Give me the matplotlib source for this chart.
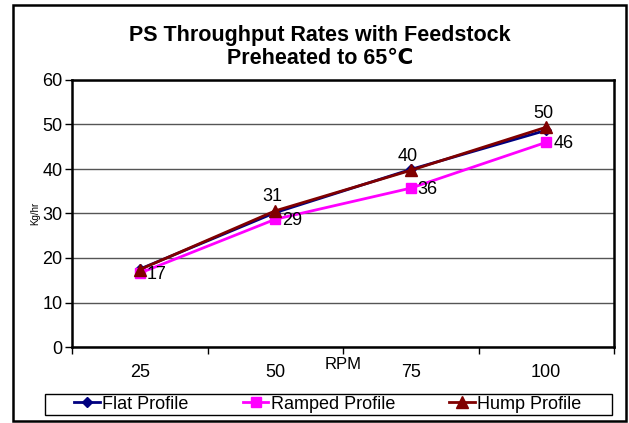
import numpy as np
import matplotlib.pyplot as plt
from matplotlib.patches import Rectangle

plt.rcParams['font.family'] = ['Liberation Sans', 'DejaVu Sans']

rpm = ['25', '50', '75', '100']
flat = [17.5, 30.2, 39.9, 48.7]
ramped = [16.6, 28.7, 35.7, 46.0]
hump = [17.4, 30.6, 39.7, 49.4]
ramped_labels = ['17', '29', '36', '46']
hump_labels = ['', '31', '40', '50']

W, H = 629, 423
fig = plt.figure(figsize=(W / 100, H / 100), dpi=100)
fig.patch.set_facecolor('white')

# outer chart frame and legend box
fig.patches.append(Rectangle((13 / W, 2 / H), 613 / W, 416 / H, transform=fig.transFigure,
                             fill=False, edgecolor='black', linewidth=1.8))
fig.patches.append(Rectangle((45 / W, 1 - 415 / H), 567 / W, 21 / H, transform=fig.transFigure,
                             fill=False, edgecolor='black', linewidth=1))

ax = fig.add_axes([72 / W, (H - 347) / H, 542 / W, 267 / H])
x = np.arange(len(rpm))

ax.plot(x, flat, color='#000080', marker='D', markersize=5, linewidth=2, label='Flat Profile')
ax.plot(x, ramped, color='#FF00FF', marker='s', markersize=7, linewidth=2, label='Ramped Profile')
ax.plot(x, hump, color='#800000', marker='^', markersize=8, linewidth=2, label='Hump Profile')

for xi, v, t in zip(x, ramped, ramped_labels):
    ax.annotate(t, (xi, v), xytext=(5, -1), textcoords='offset points',
                ha='left', va='center', fontsize=13)
for xi, v, t in zip(x, hump, hump_labels):
    if t:
        ax.annotate(t, (xi, v), xytext=(-2, 4), textcoords='offset points',
                    ha='center', va='bottom', fontsize=13)

ax.set_xlim(-0.5, len(rpm) - 0.5)
ax.set_ylim(0, 60)
ax.set_yticks(range(0, 61, 10))
ax.set_xticks(x)
ax.set_xticklabels(rpm)
ax.set_xticks(np.arange(-0.5, len(rpm), 1), minor=True)
ax.tick_params(axis='x', which='major', length=0, pad=12, labelsize=13)
ax.tick_params(axis='x', which='minor', length=5, width=1)
ax.tick_params(axis='y', length=5, width=1, labelsize=13, pad=2)
ax.grid(axis='y', color='#555555', linewidth=1)
ax.set_axisbelow(True)
for s in ax.spines.values():
    s.set_linewidth(1.8)

ax.set_xlabel('RPM', fontsize=12, labelpad=-17)
ax.set_ylabel('Kg/hr', fontsize=7, labelpad=1)

fig.text(320 / W, 1 - 47 / H, 'PS Throughput Rates with Feedstock\nPreheated to 65\u2103',
         ha='center', va='center', fontsize=15.5, fontweight='bold', linespacing=1.12)

leg = fig.legend(loc='center', ncol=3,
                 bbox_to_anchor=(328 / W, 1 - 404 / H),
                 fontsize=13, frameon=False, borderpad=0.15,
                 handlelength=1.4, handletextpad=0.15, columnspacing=3.0,
                 borderaxespad=0)

fig.savefig('out.png', dpi=100)
